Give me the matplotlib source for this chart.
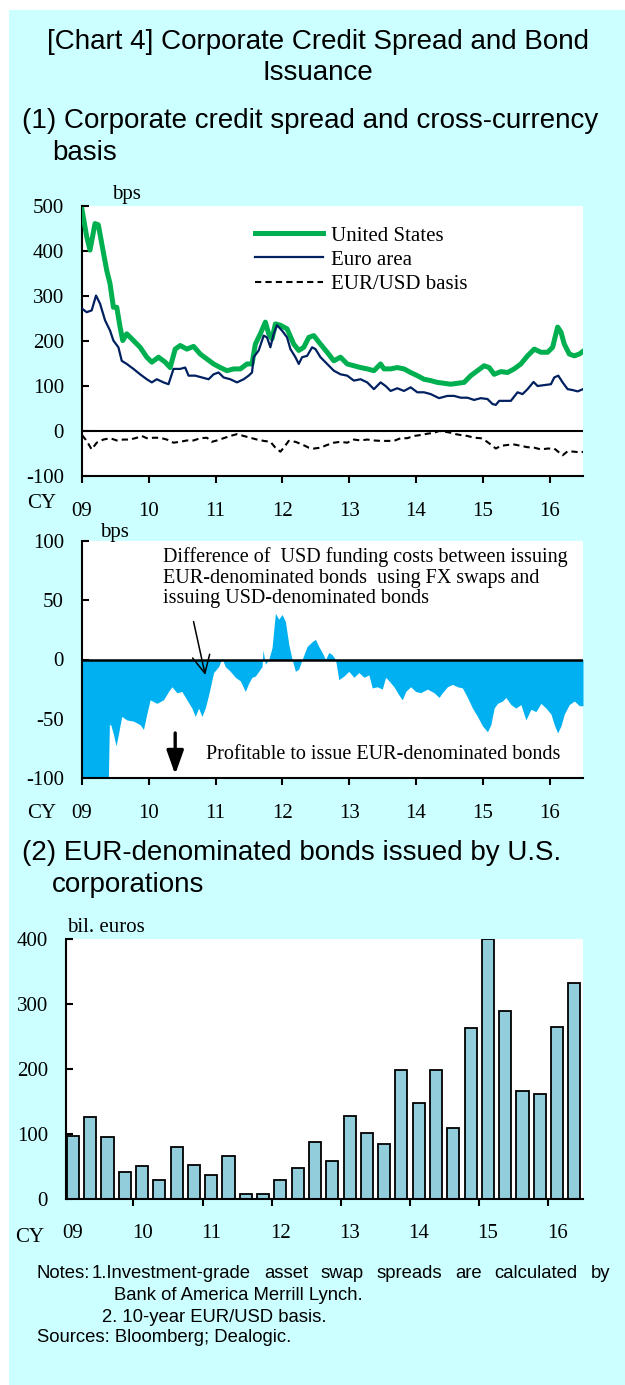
import numpy as np
import matplotlib
matplotlib.use('Agg')
import matplotlib.pyplot as plt
from matplotlib.lines import Line2D

plt.rcParams['axes.unicode_minus'] = False

# ---- data: panel (1) upper, credit spreads and basis (bps) ----
us_dates = [2009.0, 2009.07, 2009.12, 2009.195, 2009.245, 2009.295, 2009.37, 2009.42, 2009.47, 2009.52,
            2009.57, 2009.61, 2009.67, 2009.77, 2009.87, 2009.97, 2010.045, 2010.145, 2010.245, 2010.32,
            2010.395, 2010.47, 2010.57, 2010.67, 2010.77, 2010.87, 2010.97, 2011.07, 2011.17, 2011.27,
            2011.37, 2011.47, 2011.545, 2011.595, 2011.67, 2011.745, 2011.795, 2011.845, 2011.895, 2011.97,
            2012.07, 2012.17, 2012.245, 2012.32, 2012.395, 2012.47, 2012.57, 2012.67, 2012.77, 2012.87,
            2012.97, 2013.07, 2013.17, 2013.27, 2013.37, 2013.47, 2013.52, 2013.62, 2013.72, 2013.82,
            2013.92, 2014.02, 2014.12, 2014.22, 2014.32, 2014.42, 2014.52, 2014.62, 2014.72, 2014.82,
            2014.92, 2015.02, 2015.095, 2015.17, 2015.27, 2015.37, 2015.47, 2015.57, 2015.67, 2015.77,
            2015.87, 2015.97, 2016.045, 2016.12, 2016.17, 2016.22, 2016.295, 2016.37, 2016.445, 2016.5]
us_spread = [492, 432, 402, 461, 458, 417, 357, 327, 275, 275,
             231, 201, 216, 201, 186, 164, 153, 164, 153, 141,
             182, 190, 182, 188, 171, 160, 149, 141, 134, 138,
             138, 149, 149, 193, 216, 242, 216, 205, 238, 235,
             227, 193, 179, 186, 208, 212, 193, 175, 156, 164,
             149, 145, 141, 138, 134, 149, 138, 138, 141, 138,
             130, 123, 115, 112, 108, 106, 104, 106, 108, 123,
             134, 145, 141, 126, 132, 130, 138, 149, 167, 182,
             175, 175, 186, 231, 220, 193, 171, 167, 171, 177]

euro_dates = [2009.0, 2009.07, 2009.145, 2009.21, 2009.27, 2009.345, 2009.42, 2009.47, 2009.545, 2009.595,
              2009.67, 2009.77, 2009.87, 2009.97, 2010.045, 2010.12, 2010.22, 2010.295, 2010.37, 2010.47,
              2010.545, 2010.595, 2010.695, 2010.795, 2010.895, 2010.97, 2011.045, 2011.12, 2011.22, 2011.32,
              2011.42, 2011.495, 2011.545, 2011.57, 2011.645, 2011.72, 2011.77, 2011.82, 2011.87, 2011.92,
              2011.995, 2012.07, 2012.12, 2012.195, 2012.245, 2012.295, 2012.37, 2012.445, 2012.495, 2012.57,
              2012.67, 2012.77, 2012.87, 2012.97, 2013.07, 2013.17, 2013.27, 2013.37, 2013.47, 2013.545,
              2013.62, 2013.72, 2013.82, 2013.92, 2014.02, 2014.12, 2014.22, 2014.345, 2014.47, 2014.57,
              2014.67, 2014.77, 2014.87, 2014.97, 2015.07, 2015.145, 2015.195, 2015.245, 2015.345, 2015.42,
              2015.52, 2015.595, 2015.67, 2015.76, 2015.82, 2015.92, 2016.02, 2016.07, 2016.13, 2016.195,
              2016.27, 2016.345, 2016.42, 2016.5]
euro_spread = [272, 264, 268, 301, 283, 246, 223, 201, 186, 156,
               149, 138, 126, 115, 108, 115, 108, 104, 138, 138,
               141, 123, 123, 119, 115, 126, 130, 119, 115, 108,
               115, 123, 130, 164, 179, 212, 208, 186, 216, 235,
               223, 208, 182, 164, 149, 164, 167, 186, 182, 164,
               149, 134, 126, 123, 112, 115, 108, 93, 108, 100,
               89, 95, 89, 97, 86, 86, 82, 73, 78, 78,
               74, 74, 69, 73, 71, 60, 58, 67, 67, 67,
               86, 82, 93, 109, 100, 102, 104, 119, 123, 108,
               93, 91, 88, 93]

basis_dates = [2009.0, 2009.07, 2009.145, 2009.22, 2009.32, 2009.42, 2009.52, 2009.62, 2009.72, 2009.82,
               2009.895, 2009.97, 2010.07, 2010.17, 2010.27, 2010.37, 2010.47, 2010.57, 2010.67, 2010.77,
               2010.87, 2010.945, 2011.02, 2011.12, 2011.22, 2011.32, 2011.42, 2011.52, 2011.62, 2011.72,
               2011.82, 2011.895, 2011.97, 2012.02, 2012.095, 2012.195, 2012.295, 2012.395, 2012.47, 2012.57,
               2012.67, 2012.77, 2012.87, 2012.97, 2013.07, 2013.17, 2013.27, 2013.37, 2013.47, 2013.57,
               2013.67, 2013.77, 2013.87, 2013.97, 2014.07, 2014.17, 2014.27, 2014.345, 2014.42, 2014.52,
               2014.595, 2014.67, 2014.77, 2014.87, 2014.97, 2015.045, 2015.12, 2015.195, 2015.27, 2015.37,
               2015.47, 2015.57, 2015.67, 2015.77, 2015.87, 2015.97, 2016.07, 2016.145, 2016.195, 2016.27,
               2016.37, 2016.47, 2016.5]
basis = [-9, -22, -41, -26, -19, -16, -21, -19, -19, -15,
         -11, -16, -15, -15, -19, -26, -24, -21, -21, -16,
         -15, -24, -21, -16, -11, -7, -11, -15, -19, -22,
         -24, -37, -46, -37, -22, -24, -30, -37, -39, -37,
         -31, -26, -24, -26, -19, -21, -19, -21, -22, -22,
         -22, -16, -16, -11, -9, -6, -4, 0, -1, -4,
         -7, -9, -11, -15, -16, -22, -30, -39, -33, -31,
         -30, -33, -36, -37, -41, -39, -39, -48, -54, -45,
         -46, -48, -46]

# ---- data: panel (1) lower, USD funding cost difference (bps) ----
diff_dates = [2009.0, 2009.395, 2009.41, 2009.43, 2009.47, 2009.51, 2009.545, 2009.595, 2009.67, 2009.77,
              2009.87, 2009.92, 2009.97, 2010.02, 2010.12, 2010.22, 2010.295, 2010.345, 2010.42, 2010.495,
              2010.57, 2010.645, 2010.695, 2010.745, 2010.795, 2010.845, 2010.895, 2010.97, 2011.045, 2011.095,
              2011.145, 2011.22, 2011.295, 2011.37, 2011.445, 2011.495, 2011.545, 2011.595, 2011.645, 2011.695,
              2011.71, 2011.745, 2011.795, 2011.845, 2011.895, 2011.945, 2011.995, 2012.045, 2012.095, 2012.145,
              2012.195, 2012.245, 2012.295, 2012.37, 2012.445, 2012.495, 2012.545, 2012.595, 2012.645, 2012.695,
              2012.745, 2012.795, 2012.845, 2012.92, 2012.995, 2013.07, 2013.145, 2013.22, 2013.295, 2013.345,
              2013.42, 2013.495, 2013.545, 2013.595, 2013.67, 2013.745, 2013.795, 2013.845, 2013.92, 2013.995,
              2014.07, 2014.17, 2014.27, 2014.345, 2014.395, 2014.47, 2014.545, 2014.62, 2014.695, 2014.77,
              2014.845, 2014.92, 2014.995, 2015.07, 2015.12, 2015.17, 2015.22, 2015.295, 2015.345, 2015.42,
              2015.495, 2015.57, 2015.645, 2015.72, 2015.795, 2015.87, 2015.945, 2016.02, 2016.07, 2016.12,
              2016.17, 2016.22, 2016.295, 2016.37, 2016.445, 2016.5]
funding_diff = [-100, -100, -55, -55, -63, -73, -63, -48, -51, -52,
                -55, -59, -46, -34, -37, -34, -27, -23, -28, -27,
                -34, -41, -48, -41, -48, -41, -30, -11, -6, 1,
                -6, -10, -15, -18, -27, -20, -15, -14, -10, -6,
                8, -4, 0, 10, 39, 34, 38, 32, 13, 0,
                -10, -8, 0, 11, 15, 17, 11, 6, 0, 6,
                4, 0, -17, -14, -10, -15, -11, -15, -13, -24,
                -23, -25, -15, -18, -23, -30, -34, -27, -23, -27,
                -28, -25, -28, -32, -28, -23, -21, -23, -24, -32,
                -41, -48, -56, -61, -55, -41, -37, -35, -32, -38,
                -41, -38, -51, -42, -44, -37, -41, -46, -55, -62,
                -56, -46, -38, -35, -39, -39]

# ---- data: panel (2), quarterly EUR bond issuance (bil. euros) ----
quarters = ['09Q1', '09Q2', '09Q3', '09Q4', '10Q1', '10Q2', '10Q3', '10Q4',
            '11Q1', '11Q2', '11Q3', '11Q4', '12Q1', '12Q2', '12Q3', '12Q4',
            '13Q1', '13Q2', '13Q3', '13Q4', '14Q1', '14Q2', '14Q3', '14Q4',
            '15Q1', '15Q2', '15Q3', '15Q4', '16Q1', '16Q2']
issuance = [97, 126, 96, 42, 51, 30, 80, 52, 37, 66, 7, 7, 30, 48, 87,
            58, 128, 102, 84, 199, 148, 198, 109, 263, 400, 289, 166, 162, 264, 333]

years = [2009, 2010, 2011, 2012, 2013, 2014, 2015, 2016]
year_labels = ['09', '10', '11', '12', '13', '14', '15', '16']

W, H = 625, 1385
SERIF = 'Liberation Serif'
SANS = 'Liberation Sans'
BG = '#CCFFFF'
TITLE_FS = 20


def fx(x):
    return x / W


def fy(y):
    return 1 - y / H


def ax_box(left, top, right, bottom):
    return [fx(left), fy(bottom), (right - left) / W, (bottom - top) / H]


def style_axes(ax, xpad=14):
    ax.set_facecolor('white')
    for s in ['top', 'right']:
        ax.spines[s].set_visible(False)
    for s in ['left', 'bottom']:
        ax.spines[s].set_linewidth(1.5)
        ax.spines[s].set_color('black')
    ax.tick_params(axis='y', direction='in', length=5, width=1.5, pad=13,
                   labelsize=15, labelfontfamily=SERIF)
    ax.tick_params(axis='x', direction='out', length=5, width=1.5, pad=xpad,
                   labelsize=15, labelfontfamily=SERIF)


fig = plt.figure(figsize=(W / 100, H / 100), dpi=100)
fig.patch.set_facecolor('white')
fig.patches.append(plt.Rectangle((fx(9), 0), 1 - fx(9), fy(10), transform=fig.transFigure,
                                 facecolor=BG, edgecolor='none', zorder=-10))

# titles
fig.text(fx(318), fy(42), '[Chart 4] Corporate Credit Spread and Bond', ha='center', va='center',
         family=SANS, fontsize=TITLE_FS)
fig.text(fx(318), fy(73), 'Issuance', ha='center', va='center', family=SANS, fontsize=TITLE_FS)
fig.text(fx(22), fy(121), '(1) Corporate credit spread and cross-currency', ha='left', va='center',
         family=SANS, fontsize=TITLE_FS)
fig.text(fx(52), fy(153), 'basis', ha='left', va='center', family=SANS, fontsize=TITLE_FS)
fig.text(fx(22), fy(853), '(2) EUR-denominated bonds issued by U.S.', ha='left', va='center',
         family=SANS, fontsize=TITLE_FS)
fig.text(fx(52), fy(885), 'corporations', ha='left', va='center', family=SANS, fontsize=TITLE_FS)

# ---- panel 1: spreads ----
ax1 = fig.add_axes(ax_box(82, 206, 583, 476))
style_axes(ax1)
ax1.axhline(0, color='black', lw=1.5, zorder=1)
ax1.plot(us_dates, us_spread, color='#00B050', lw=3.6, solid_joinstyle='round', zorder=3)
ax1.plot(euro_dates, euro_spread, color='#002060', lw=1.6, zorder=4)
ax1.plot(basis_dates, basis, color='black', lw=1.5, dashes=(3, 2), zorder=4)
ax1.set_xlim(2009, 2016.5)
ax1.set_ylim(-100, 500)
ax1.set_yticks(range(-100, 501, 100))
ax1.set_xticks(years)
ax1.set_xticklabels(year_labels)
handles = [Line2D([], [], color='#00B050', lw=3.6),
           Line2D([], [], color='#002060', lw=1.6),
           Line2D([], [], color='black', lw=1.5, dashes=(3, 2))]
ax1.legend(handles, ['United States', 'Euro area', 'EUR/USD basis'], loc='upper left',
           bbox_to_anchor=(fx(255), fy(226)), bbox_transform=fig.transFigure,
           frameon=False, prop={'family': SERIF, 'size': 15}, handlelength=3.25,
           handletextpad=0.4, labelspacing=0.22, borderpad=0, borderaxespad=0)
fig.text(fx(112), fy(195), 'bps', ha='left', va='center', family=SERIF, fontsize=15)
fig.text(fx(27), fy(503), 'CY', ha='left', va='center', family=SERIF, fontsize=15)

# ---- panel 1 lower: funding cost difference ----
ax2 = fig.add_axes(ax_box(82, 541, 583, 778))
style_axes(ax2)
ax2.fill_between(diff_dates, 0, funding_diff, color='#00B0F0', lw=0, zorder=2)
ax2.axhline(0, color='black', lw=1.8, zorder=3)
ax2.set_xlim(2009, 2016.5)
ax2.set_ylim(-100, 100)
ax2.set_yticks([-100, -50, 0, 50, 100])
ax2.set_xticks(years)
ax2.set_xticklabels(year_labels)
ax2.text(2010.22, 95, 'Difference of  USD funding costs between issuing\n'
         'EUR-denominated bonds  using FX swaps and\nissuing USD-denominated bonds',
         ha='left', va='top', family=SERIF, fontsize=14.5, linespacing=1.12, zorder=5)
ax2.annotate('', xy=(2010.845, -13), xytext=(2010.67, 32),
             arrowprops=dict(arrowstyle='->,head_length=0.7,head_width=0.35', lw=1.1,
                             color='black', shrinkA=0, shrinkB=0, mutation_scale=18))
ax2.annotate('', xy=(2010.395, -97), xytext=(2010.395, -62),
             arrowprops=dict(arrowstyle='-|>,head_length=0.9,head_width=0.32', lw=2.4,
                             color='black', shrinkA=0, shrinkB=0, mutation_scale=16))
ax2.text(2010.86, -80, 'Profitable to issue EUR-denominated bonds', ha='left', va='center',
         family=SERIF, fontsize=14.5, zorder=5)
fig.text(fx(100), fy(532), 'bps', ha='left', va='center', family=SERIF, fontsize=15)
fig.text(fx(27), fy(813), 'CY', ha='left', va='center', family=SERIF, fontsize=15)

# ---- panel 2: bond issuance ----
ax3 = fig.add_axes(ax_box(66, 939, 583, 1199))
style_axes(ax3)
xpos = np.arange(len(quarters))
ax3.bar(xpos, issuance, width=0.7, color='#92CDDC', edgecolor='black', linewidth=1.3, zorder=2)
ax3.set_xlim(-0.4, len(quarters) - 0.5)
ax3.set_ylim(0, 400)
ax3.set_yticks([0, 100, 200, 300, 400])
ax3.set_xticks(np.arange(3.5, len(quarters), 4))
ax3.set_xticklabels([])
ax3.set_xticks(xpos[::4], minor=True)
ax3.set_xticklabels(year_labels, minor=True)
ax3.tick_params(axis='x', which='minor', length=0, pad=18, labelsize=15, labelfontfamily=SERIF)
fig.text(fx(67), fy(928), 'bil. euros', ha='left', va='center', family=SERIF, fontsize=15)
fig.text(fx(15), fy(1237), 'CY', ha='left', va='center', family=SERIF, fontsize=15)

# ---- notes ----
NOTE_FS = 13.3
fig.text(fx(37), fy(1274), 'Notes:', ha='left', va='center', family=SANS, fontsize=NOTE_FS)
words = ['1.Investment-grade', 'asset', 'swap', 'spreads', 'are', 'calculated', 'by']
renderer = fig.canvas.get_renderer()
word_txt = [fig.text(0, fy(1274), w, ha='left', va='center', family=SANS, fontsize=NOTE_FS) for w in words]
widths = [t.get_window_extent(renderer).width for t in word_txt]
x0 = 92
gap = (610 - x0 - sum(widths)) / (len(words) - 1)
x = x0
for t, wd in zip(word_txt, widths):
    t.set_x(fx(x))
    x += wd + gap
fig.text(fx(114), fy(1296), 'Bank of America Merrill Lynch.', ha='left', va='center',
         family=SANS, fontsize=NOTE_FS)
fig.text(fx(102), fy(1317), '2. 10-year EUR/USD basis.', ha='left', va='center',
         family=SANS, fontsize=NOTE_FS)
fig.text(fx(37), fy(1337), 'Sources: Bloomberg; Dealogic.', ha='left', va='center',
         family=SANS, fontsize=NOTE_FS)

fig.savefig('out.png', dpi=100, facecolor=fig.get_facecolor())
